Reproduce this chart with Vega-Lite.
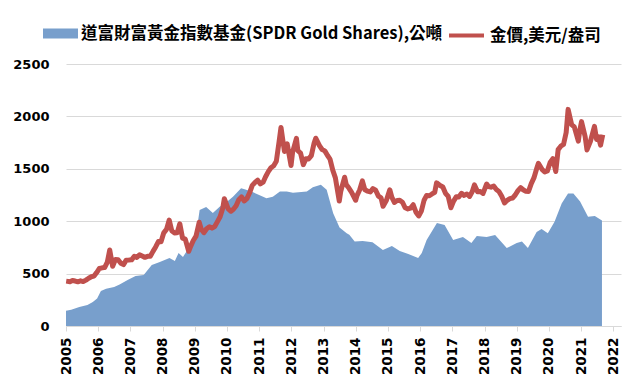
{
  "$schema": "https://vega.github.io/schema/vega-lite/v6.json",
  "width": 555,
  "height": 262,
  "autosize": {"type": "none"},
  "padding": {"left": 66, "top": 64, "right": 19, "bottom": 59},
  "background": "white",
  "config": {"view": {"stroke": null}},
  "datasets": {
    "holdings": [
      {"date": "2005-01-01", "tonnes": 146},
      {"date": "2005-03-01", "tonnes": 155},
      {"date": "2005-06-01", "tonnes": 181},
      {"date": "2005-09-01", "tonnes": 200},
      {"date": "2005-11-01", "tonnes": 229},
      {"date": "2005-12-20", "tonnes": 262},
      {"date": "2006-02-01", "tonnes": 334},
      {"date": "2006-04-01", "tonnes": 355},
      {"date": "2006-07-01", "tonnes": 372},
      {"date": "2006-09-01", "tonnes": 395},
      {"date": "2006-12-01", "tonnes": 439},
      {"date": "2007-03-01", "tonnes": 477},
      {"date": "2007-06-01", "tonnes": 487},
      {"date": "2007-09-01", "tonnes": 582},
      {"date": "2007-12-01", "tonnes": 611},
      {"date": "2008-03-20", "tonnes": 649},
      {"date": "2008-05-20", "tonnes": 620},
      {"date": "2008-07-01", "tonnes": 697},
      {"date": "2008-08-20", "tonnes": 659},
      {"date": "2008-11-01", "tonnes": 754},
      {"date": "2009-01-20", "tonnes": 897},
      {"date": "2009-02-25", "tonnes": 1107},
      {"date": "2009-05-10", "tonnes": 1135},
      {"date": "2009-07-25", "tonnes": 1078},
      {"date": "2009-10-10", "tonnes": 1138},
      {"date": "2010-01-01", "tonnes": 1185},
      {"date": "2010-03-10", "tonnes": 1233},
      {"date": "2010-06-10", "tonnes": 1314},
      {"date": "2010-07-20", "tonnes": 1305},
      {"date": "2010-10-05", "tonnes": 1283},
      {"date": "2011-01-01", "tonnes": 1250},
      {"date": "2011-03-25", "tonnes": 1218},
      {"date": "2011-06-05", "tonnes": 1233},
      {"date": "2011-08-25", "tonnes": 1283},
      {"date": "2011-11-10", "tonnes": 1283},
      {"date": "2012-01-20", "tonnes": 1272},
      {"date": "2012-06-25", "tonnes": 1283},
      {"date": "2012-09-01", "tonnes": 1324},
      {"date": "2012-12-01", "tonnes": 1348},
      {"date": "2013-02-05", "tonnes": 1300},
      {"date": "2013-04-20", "tonnes": 1076},
      {"date": "2013-07-01", "tonnes": 940},
      {"date": "2013-09-20", "tonnes": 886},
      {"date": "2013-10-20", "tonnes": 870},
      {"date": "2013-12-20", "tonnes": 806},
      {"date": "2014-03-20", "tonnes": 811},
      {"date": "2014-07-10", "tonnes": 800},
      {"date": "2014-11-05", "tonnes": 725},
      {"date": "2015-02-15", "tonnes": 763},
      {"date": "2015-05-15", "tonnes": 716},
      {"date": "2015-08-20", "tonnes": 687},
      {"date": "2015-12-10", "tonnes": 649},
      {"date": "2016-01-20", "tonnes": 697},
      {"date": "2016-03-15", "tonnes": 821},
      {"date": "2016-07-10", "tonnes": 983},
      {"date": "2016-10-05", "tonnes": 964},
      {"date": "2017-01-10", "tonnes": 821},
      {"date": "2017-05-01", "tonnes": 849},
      {"date": "2017-08-05", "tonnes": 792},
      {"date": "2017-10-05", "tonnes": 859},
      {"date": "2018-01-25", "tonnes": 849},
      {"date": "2018-05-01", "tonnes": 869},
      {"date": "2018-09-10", "tonnes": 744},
      {"date": "2019-01-01", "tonnes": 792},
      {"date": "2019-03-01", "tonnes": 806},
      {"date": "2019-05-08", "tonnes": 744},
      {"date": "2019-08-15", "tonnes": 897},
      {"date": "2019-10-10", "tonnes": 925},
      {"date": "2019-12-20", "tonnes": 886},
      {"date": "2020-03-05", "tonnes": 995},
      {"date": "2020-05-25", "tonnes": 1170},
      {"date": "2020-08-05", "tonnes": 1265},
      {"date": "2020-10-05", "tonnes": 1265},
      {"date": "2020-12-20", "tonnes": 1187},
      {"date": "2021-03-20", "tonnes": 1043},
      {"date": "2021-06-05", "tonnes": 1050},
      {"date": "2021-08-25", "tonnes": 1006}
    ],
    "gold": [
      {"date": "2005-01-03", "price": 428},
      {"date": "2005-02-15", "price": 423},
      {"date": "2005-03-15", "price": 434},
      {"date": "2005-04-15", "price": 429},
      {"date": "2005-05-15", "price": 422},
      {"date": "2005-06-15", "price": 431},
      {"date": "2005-07-15", "price": 424},
      {"date": "2005-08-15", "price": 438},
      {"date": "2005-09-15", "price": 456},
      {"date": "2005-10-15", "price": 470},
      {"date": "2005-11-15", "price": 476},
      {"date": "2005-12-15", "price": 510},
      {"date": "2006-01-15", "price": 549},
      {"date": "2006-02-15", "price": 555},
      {"date": "2006-03-15", "price": 557},
      {"date": "2006-04-15", "price": 610},
      {"date": "2006-05-12", "price": 725},
      {"date": "2006-06-14", "price": 570},
      {"date": "2006-07-15", "price": 634},
      {"date": "2006-08-15", "price": 632},
      {"date": "2006-09-15", "price": 598},
      {"date": "2006-10-15", "price": 586},
      {"date": "2006-11-15", "price": 628},
      {"date": "2006-12-15", "price": 629},
      {"date": "2007-01-15", "price": 631},
      {"date": "2007-02-15", "price": 665},
      {"date": "2007-03-15", "price": 655},
      {"date": "2007-04-15", "price": 679},
      {"date": "2007-05-15", "price": 667},
      {"date": "2007-06-15", "price": 655},
      {"date": "2007-07-15", "price": 665},
      {"date": "2007-08-15", "price": 665},
      {"date": "2007-09-15", "price": 712},
      {"date": "2007-10-15", "price": 754},
      {"date": "2007-11-15", "price": 806},
      {"date": "2007-12-15", "price": 803},
      {"date": "2008-01-15", "price": 889},
      {"date": "2008-02-15", "price": 922},
      {"date": "2008-03-17", "price": 1011},
      {"date": "2008-04-15", "price": 909},
      {"date": "2008-05-15", "price": 888},
      {"date": "2008-06-15", "price": 889},
      {"date": "2008-07-15", "price": 975},
      {"date": "2008-08-15", "price": 839},
      {"date": "2008-09-15", "price": 829},
      {"date": "2008-10-24", "price": 713},
      {"date": "2008-11-15", "price": 760},
      {"date": "2008-12-15", "price": 816},
      {"date": "2009-01-15", "price": 858},
      {"date": "2009-02-20", "price": 990},
      {"date": "2009-03-15", "price": 924},
      {"date": "2009-04-15", "price": 890},
      {"date": "2009-05-15", "price": 928},
      {"date": "2009-06-15", "price": 946},
      {"date": "2009-07-15", "price": 934},
      {"date": "2009-08-15", "price": 949},
      {"date": "2009-09-15", "price": 996},
      {"date": "2009-10-15", "price": 1043},
      {"date": "2009-11-15", "price": 1127},
      {"date": "2009-12-02", "price": 1215},
      {"date": "2010-01-15", "price": 1117},
      {"date": "2010-02-15", "price": 1095},
      {"date": "2010-03-15", "price": 1114},
      {"date": "2010-04-15", "price": 1148},
      {"date": "2010-05-15", "price": 1205},
      {"date": "2010-06-15", "price": 1232},
      {"date": "2010-07-15", "price": 1193},
      {"date": "2010-08-15", "price": 1215},
      {"date": "2010-09-15", "price": 1271},
      {"date": "2010-10-15", "price": 1342},
      {"date": "2010-11-15", "price": 1370},
      {"date": "2010-12-15", "price": 1391},
      {"date": "2011-01-15", "price": 1356},
      {"date": "2011-02-15", "price": 1372},
      {"date": "2011-03-15", "price": 1424},
      {"date": "2011-04-15", "price": 1473},
      {"date": "2011-05-15", "price": 1510},
      {"date": "2011-06-15", "price": 1529},
      {"date": "2011-07-15", "price": 1572},
      {"date": "2011-08-15", "price": 1756},
      {"date": "2011-09-06", "price": 1895},
      {"date": "2011-10-15", "price": 1665},
      {"date": "2011-11-15", "price": 1739},
      {"date": "2011-12-29", "price": 1531},
      {"date": "2012-01-15", "price": 1656},
      {"date": "2012-02-28", "price": 1790},
      {"date": "2012-03-15", "price": 1673},
      {"date": "2012-04-15", "price": 1650},
      {"date": "2012-05-16", "price": 1540},
      {"date": "2012-06-15", "price": 1596},
      {"date": "2012-07-15", "price": 1594},
      {"date": "2012-08-15", "price": 1626},
      {"date": "2012-09-15", "price": 1744},
      {"date": "2012-10-04", "price": 1792},
      {"date": "2012-11-15", "price": 1721},
      {"date": "2012-12-15", "price": 1684},
      {"date": "2013-01-15", "price": 1671},
      {"date": "2013-02-15", "price": 1627},
      {"date": "2013-03-15", "price": 1593},
      {"date": "2013-04-15", "price": 1487},
      {"date": "2013-05-15", "price": 1414},
      {"date": "2013-06-28", "price": 1192},
      {"date": "2013-07-15", "price": 1286},
      {"date": "2013-08-28", "price": 1420},
      {"date": "2013-09-15", "price": 1349},
      {"date": "2013-10-15", "price": 1316},
      {"date": "2013-11-15", "price": 1275},
      {"date": "2013-12-31", "price": 1200},
      {"date": "2014-01-15", "price": 1244},
      {"date": "2014-02-15", "price": 1300},
      {"date": "2014-03-17", "price": 1385},
      {"date": "2014-04-15", "price": 1299},
      {"date": "2014-05-15", "price": 1287},
      {"date": "2014-06-15", "price": 1279},
      {"date": "2014-07-15", "price": 1311},
      {"date": "2014-08-15", "price": 1296},
      {"date": "2014-09-15", "price": 1239},
      {"date": "2014-10-15", "price": 1222},
      {"date": "2014-11-07", "price": 1142},
      {"date": "2014-12-15", "price": 1200},
      {"date": "2015-01-22", "price": 1300},
      {"date": "2015-02-15", "price": 1227},
      {"date": "2015-03-15", "price": 1179},
      {"date": "2015-04-15", "price": 1198},
      {"date": "2015-05-15", "price": 1199},
      {"date": "2015-06-15", "price": 1181},
      {"date": "2015-07-15", "price": 1128},
      {"date": "2015-08-15", "price": 1117},
      {"date": "2015-09-15", "price": 1125},
      {"date": "2015-10-15", "price": 1157},
      {"date": "2015-11-15", "price": 1086},
      {"date": "2015-12-17", "price": 1050},
      {"date": "2016-01-15", "price": 1097},
      {"date": "2016-02-15", "price": 1200},
      {"date": "2016-03-15", "price": 1246},
      {"date": "2016-04-15", "price": 1243},
      {"date": "2016-05-15", "price": 1260},
      {"date": "2016-06-15", "price": 1276},
      {"date": "2016-07-06", "price": 1366},
      {"date": "2016-08-15", "price": 1340},
      {"date": "2016-09-15", "price": 1326},
      {"date": "2016-10-15", "price": 1266},
      {"date": "2016-11-15", "price": 1236},
      {"date": "2016-12-15", "price": 1128},
      {"date": "2017-01-15", "price": 1192},
      {"date": "2017-02-15", "price": 1234},
      {"date": "2017-03-15", "price": 1231},
      {"date": "2017-04-15", "price": 1266},
      {"date": "2017-05-15", "price": 1246},
      {"date": "2017-06-15", "price": 1260},
      {"date": "2017-07-15", "price": 1236},
      {"date": "2017-08-15", "price": 1283},
      {"date": "2017-09-08", "price": 1346},
      {"date": "2017-10-15", "price": 1280},
      {"date": "2017-11-15", "price": 1283},
      {"date": "2017-12-15", "price": 1265},
      {"date": "2018-01-25", "price": 1355},
      {"date": "2018-02-15", "price": 1331},
      {"date": "2018-03-15", "price": 1325},
      {"date": "2018-04-15", "price": 1335},
      {"date": "2018-05-15", "price": 1303},
      {"date": "2018-06-15", "price": 1282},
      {"date": "2018-07-15", "price": 1238},
      {"date": "2018-08-16", "price": 1174},
      {"date": "2018-09-15", "price": 1199},
      {"date": "2018-10-15", "price": 1215},
      {"date": "2018-11-15", "price": 1221},
      {"date": "2018-12-15", "price": 1250},
      {"date": "2019-01-15", "price": 1291},
      {"date": "2019-02-15", "price": 1320},
      {"date": "2019-03-15", "price": 1300},
      {"date": "2019-04-15", "price": 1285},
      {"date": "2019-05-15", "price": 1284},
      {"date": "2019-06-15", "price": 1359},
      {"date": "2019-07-15", "price": 1413},
      {"date": "2019-08-15", "price": 1500},
      {"date": "2019-09-04", "price": 1552},
      {"date": "2019-10-15", "price": 1495},
      {"date": "2019-11-15", "price": 1470},
      {"date": "2019-12-15", "price": 1480},
      {"date": "2020-01-15", "price": 1560},
      {"date": "2020-02-15", "price": 1597},
      {"date": "2020-03-19", "price": 1474},
      {"date": "2020-04-15", "price": 1683},
      {"date": "2020-05-15", "price": 1716},
      {"date": "2020-06-15", "price": 1732},
      {"date": "2020-07-15", "price": 1847},
      {"date": "2020-08-06", "price": 2067},
      {"date": "2020-09-15", "price": 1922},
      {"date": "2020-10-15", "price": 1900},
      {"date": "2020-11-30", "price": 1764},
      {"date": "2020-12-15", "price": 1858},
      {"date": "2021-01-05", "price": 1950},
      {"date": "2021-02-15", "price": 1808},
      {"date": "2021-03-08", "price": 1680},
      {"date": "2021-04-15", "price": 1760},
      {"date": "2021-06-01", "price": 1905},
      {"date": "2021-06-25", "price": 1780},
      {"date": "2021-07-15", "price": 1807},
      {"date": "2021-08-09", "price": 1726},
      {"date": "2021-09-03", "price": 1825}
    ]
  },
  "encoding": {
    "x": {
      "field": "date",
      "type": "temporal",
      "scale": {
        "type": "utc",
        "domain": [
          {"year": 2005, "month": 1, "date": 1, "utc": true},
          {"year": 2022, "month": 3, "date": 29, "utc": true}
        ],
        "nice": false
      },
      "axis": {
        "title": null,
        "tickCount": {"interval": "year", "step": 1},
        "format": "%Y",
        "labelAngle": -90,
        "labelFont": "DejaVu Sans",
        "labelFontWeight": "bold",
        "labelFontSize": 13.5,
        "labelColor": "#000000",
        "labelPadding": 6,
        "labelOverlap": false,
        "labelFlush": false,
        "grid": false,
        "domainColor": "#d9d9d9",
        "domainWidth": 1,
        "tickColor": "#d9d9d9",
        "tickSize": 5
      }
    }
  },
  "layer": [
    {
      "data": {"name": "holdings"},
      "mark": {"type": "area", "interpolate": "linear", "opacity": 1},
      "encoding": {
        "y": {
          "field": "tonnes",
          "type": "quantitative",
          "scale": {"domain": [0, 2500], "nice": false},
          "axis": {
            "title": null,
            "values": [0, 500, 1000, 1500, 2000, 2500],
            "format": "d",
            "labelFont": "DejaVu Sans",
            "labelFontWeight": "bold",
            "labelFontSize": 13,
            "labelColor": "#000000",
            "labelPadding": 17,
            "ticks": false,
            "domain": false,
            "grid": true,
            "gridColor": "#d9d9d9",
            "gridWidth": 1
          }
        },
        "fill": {
          "datum": "道富財富黃金指數基金(SPDR Gold Shares),公噸",
          "scale": {"range": ["#789fcc"]},
          "legend": {
            "title": null,
            "orient": "none",
            "legendX": -23,
            "legendY": -48,
            "padding": 0,
            "symbolType": "M-1,-0.29H1V0.29H-1Z",
            "symbolSize": 1225,
            "symbolStrokeWidth": 0,
            "symbolOpacity": 1,
            "labelFont": "Noto Sans CJK TC",
            "labelFontWeight": "bold",
            "labelFontSize": 16.5,
            "labelColor": "#000000",
            "labelOffset": 3,
            "labelLimit": 600
          }
        }
      }
    },
    {
      "data": {"name": "gold"},
      "mark": {"type": "line", "strokeWidth": 5, "interpolate": "linear", "strokeJoin": "round"},
      "encoding": {
        "y": {"field": "price", "type": "quantitative"},
        "stroke": {
          "datum": "金價,美元/盎司",
          "scale": {"range": ["#c0504d"]},
          "legend": {
            "title": null,
            "orient": "none",
            "legendX": 381,
            "legendY": -48,
            "padding": 0,
            "symbolType": "stroke",
            "symbolSize": 1225,
            "symbolStrokeWidth": 4,
            "labelFont": "Noto Sans CJK TC",
            "labelFontWeight": "bold",
            "labelFontSize": 16.5,
            "labelColor": "#000000",
            "labelOffset": 4,
            "labelLimit": 600
          }
        }
      }
    }
  ]
}
